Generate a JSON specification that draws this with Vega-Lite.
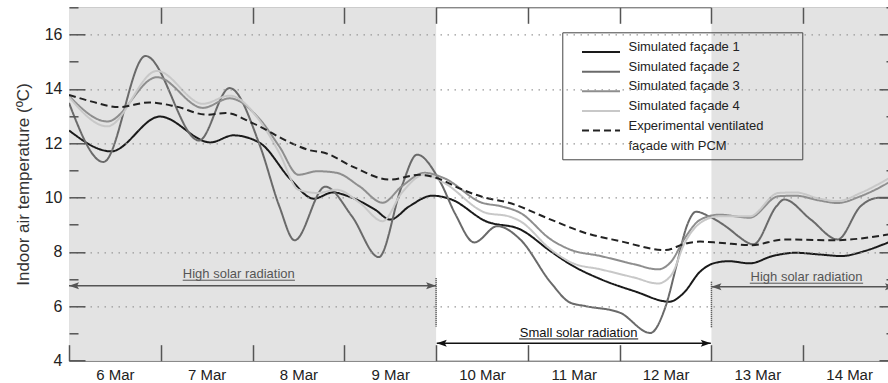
{
  "$schema": "https://vega.github.io/schema/vega-lite/v6.json",
  "width": 826,
  "height": 353.4,
  "autosize": {"type": "none"},
  "padding": {"left": 69, "top": 7.3, "right": 0, "bottom": 22},
  "background": "white",
  "config": {
    "font": "Liberation Sans",
    "view": {"stroke": "#555", "strokeWidth": 1}
  },
  "datasets": {
    "bands": [
      {"start": "2016-03-06T00:00", "end": "2016-03-10T00:00"},
      {"start": "2016-03-13T00:00", "end": "2016-03-15T00:00"}
    ],
    "dividers": [
      {"time": "2016-03-10T00:00", "top": 7.03, "bottom": 5.25},
      {"time": "2016-03-13T00:00", "top": 6.9, "bottom": 5.2}
    ],
    "arrows": [
      {"kind": "high", "start": "2016-03-06T00:00", "end": "2016-03-10T00:00", "level": 6.76},
      {"kind": "small", "start": "2016-03-10T00:10", "end": "2016-03-12T23:50", "level": 4.64},
      {"kind": "high", "start": "2016-03-13T00:00", "end": "2016-03-15T00:00", "level": 6.72}
    ],
    "notes": [
      {"kind": "high", "label": "High solar radiation", "time": "2016-03-07T20:24", "temp": 7.05, "u0": "2016-03-07T05:44", "u1": "2016-03-08T11:05", "uy": 6.96},
      {"kind": "small", "label": "Small solar radiation", "time": "2016-03-11T13:16", "temp": 4.88, "u0": "2016-03-10T21:43", "u1": "2016-03-12T04:51", "uy": 4.8},
      {"kind": "high", "label": "High solar radiation", "time": "2016-03-14T00:52", "temp": 6.92, "u0": "2016-03-13T10:02", "u1": "2016-03-14T15:40", "uy": 6.85}
    ],
    "series": [
      {"series": "Simulated façade 1", "time": "2016-03-06T00:00", "temp": 12.47},
      {"series": "Simulated façade 1", "time": "2016-03-06T11:00", "temp": 11.70},
      {"series": "Simulated façade 1", "time": "2016-03-06T23:45", "temp": 12.98},
      {"series": "Simulated façade 1", "time": "2016-03-07T13:00", "temp": 12.03},
      {"series": "Simulated façade 1", "time": "2016-03-07T19:00", "temp": 12.29},
      {"series": "Simulated façade 1", "time": "2016-03-08T02:00", "temp": 12.00},
      {"series": "Simulated façade 1", "time": "2016-03-08T10:00", "temp": 10.66},
      {"series": "Simulated façade 1", "time": "2016-03-08T16:00", "temp": 9.96},
      {"series": "Simulated façade 1", "time": "2016-03-08T21:00", "temp": 10.19},
      {"series": "Simulated façade 1", "time": "2016-03-09T01:00", "temp": 10.05},
      {"series": "Simulated façade 1", "time": "2016-03-09T08:00", "temp": 9.56},
      {"series": "Simulated façade 1", "time": "2016-03-09T12:00", "temp": 9.19},
      {"series": "Simulated façade 1", "time": "2016-03-09T17:00", "temp": 9.68},
      {"series": "Simulated façade 1", "time": "2016-03-09T23:00", "temp": 10.07},
      {"series": "Simulated façade 1", "time": "2016-03-10T04:00", "temp": 9.93},
      {"series": "Simulated façade 1", "time": "2016-03-10T13:00", "temp": 9.13},
      {"series": "Simulated façade 1", "time": "2016-03-10T22:00", "temp": 8.83},
      {"series": "Simulated façade 1", "time": "2016-03-11T06:00", "temp": 8.02},
      {"series": "Simulated façade 1", "time": "2016-03-11T11:00", "temp": 7.55},
      {"series": "Simulated façade 1", "time": "2016-03-11T19:00", "temp": 7.00},
      {"series": "Simulated façade 1", "time": "2016-03-12T04:00", "temp": 6.55},
      {"series": "Simulated façade 1", "time": "2016-03-12T13:00", "temp": 6.17},
      {"series": "Simulated façade 1", "time": "2016-03-12T16:40", "temp": 6.48},
      {"series": "Simulated façade 1", "time": "2016-03-12T21:00", "temp": 7.27},
      {"series": "Simulated façade 1", "time": "2016-03-13T00:30", "temp": 7.58},
      {"series": "Simulated façade 1", "time": "2016-03-13T04:30", "temp": 7.66},
      {"series": "Simulated façade 1", "time": "2016-03-13T10:00", "temp": 7.58},
      {"series": "Simulated façade 1", "time": "2016-03-13T16:00", "temp": 7.85},
      {"series": "Simulated façade 1", "time": "2016-03-13T22:00", "temp": 7.97},
      {"series": "Simulated façade 1", "time": "2016-03-14T04:00", "temp": 7.91},
      {"series": "Simulated façade 1", "time": "2016-03-14T10:00", "temp": 7.85},
      {"series": "Simulated façade 1", "time": "2016-03-14T16:00", "temp": 8.03},
      {"series": "Simulated façade 1", "time": "2016-03-14T21:00", "temp": 8.28},
      {"series": "Simulated façade 1", "time": "2016-03-15T00:00", "temp": 8.45},

      {"series": "Simulated façade 2", "time": "2016-03-06T00:00", "temp": 13.48},
      {"series": "Simulated façade 2", "time": "2016-03-06T09:00", "temp": 11.31},
      {"series": "Simulated façade 2", "time": "2016-03-06T20:00", "temp": 15.21},
      {"series": "Simulated façade 2", "time": "2016-03-07T10:00", "temp": 12.10},
      {"series": "Simulated façade 2", "time": "2016-03-07T18:00", "temp": 14.03},
      {"series": "Simulated façade 2", "time": "2016-03-08T02:00", "temp": 11.88},
      {"series": "Simulated façade 2", "time": "2016-03-08T07:00", "temp": 9.68},
      {"series": "Simulated façade 2", "time": "2016-03-08T11:00", "temp": 8.43},
      {"series": "Simulated façade 2", "time": "2016-03-08T19:00", "temp": 10.40},
      {"series": "Simulated façade 2", "time": "2016-03-09T02:00", "temp": 9.31},
      {"series": "Simulated façade 2", "time": "2016-03-09T09:00", "temp": 7.81},
      {"series": "Simulated façade 2", "time": "2016-03-09T15:00", "temp": 10.41},
      {"series": "Simulated façade 2", "time": "2016-03-09T19:00", "temp": 11.58},
      {"series": "Simulated façade 2", "time": "2016-03-10T01:00", "temp": 10.60},
      {"series": "Simulated façade 2", "time": "2016-03-10T05:00", "temp": 9.40},
      {"series": "Simulated façade 2", "time": "2016-03-10T10:00", "temp": 8.35},
      {"series": "Simulated façade 2", "time": "2016-03-10T16:00", "temp": 8.95},
      {"series": "Simulated façade 2", "time": "2016-03-10T22:00", "temp": 8.46},
      {"series": "Simulated façade 2", "time": "2016-03-11T06:00", "temp": 6.87},
      {"series": "Simulated façade 2", "time": "2016-03-11T11:00", "temp": 6.14},
      {"series": "Simulated façade 2", "time": "2016-03-11T15:00", "temp": 6.01},
      {"series": "Simulated façade 2", "time": "2016-03-12T00:00", "temp": 5.77},
      {"series": "Simulated façade 2", "time": "2016-03-12T08:00", "temp": 5.02},
      {"series": "Simulated façade 2", "time": "2016-03-12T12:00", "temp": 5.99},
      {"series": "Simulated façade 2", "time": "2016-03-12T15:00", "temp": 7.58},
      {"series": "Simulated façade 2", "time": "2016-03-12T17:30", "temp": 8.93},
      {"series": "Simulated façade 2", "time": "2016-03-12T20:00", "temp": 9.48},
      {"series": "Simulated façade 2", "time": "2016-03-12T23:30", "temp": 9.30},
      {"series": "Simulated façade 2", "time": "2016-03-13T05:00", "temp": 8.81},
      {"series": "Simulated façade 2", "time": "2016-03-13T07:00", "temp": 8.58},
      {"series": "Simulated façade 2", "time": "2016-03-13T11:00", "temp": 8.28},
      {"series": "Simulated façade 2", "time": "2016-03-13T17:00", "temp": 9.68},
      {"series": "Simulated façade 2", "time": "2016-03-13T19:00", "temp": 9.93},
      {"series": "Simulated façade 2", "time": "2016-03-14T02:00", "temp": 9.19},
      {"series": "Simulated façade 2", "time": "2016-03-14T09:00", "temp": 8.46},
      {"series": "Simulated façade 2", "time": "2016-03-14T15:00", "temp": 9.68},
      {"series": "Simulated façade 2", "time": "2016-03-14T19:30", "temp": 9.99},
      {"series": "Simulated façade 2", "time": "2016-03-15T00:00", "temp": 10.00},

      {"series": "Simulated façade 3", "time": "2016-03-06T00:00", "temp": 13.74},
      {"series": "Simulated façade 3", "time": "2016-03-06T10:00", "temp": 12.80},
      {"series": "Simulated façade 3", "time": "2016-03-06T23:00", "temp": 14.43},
      {"series": "Simulated façade 3", "time": "2016-03-07T11:00", "temp": 13.30},
      {"series": "Simulated façade 3", "time": "2016-03-07T18:00", "temp": 13.65},
      {"series": "Simulated façade 3", "time": "2016-03-08T02:00", "temp": 12.86},
      {"series": "Simulated façade 3", "time": "2016-03-08T07:00", "temp": 11.88},
      {"series": "Simulated façade 3", "time": "2016-03-08T12:00", "temp": 10.84},
      {"series": "Simulated façade 3", "time": "2016-03-08T17:00", "temp": 10.97},
      {"series": "Simulated façade 3", "time": "2016-03-08T22:00", "temp": 10.91},
      {"series": "Simulated façade 3", "time": "2016-03-09T04:00", "temp": 10.41},
      {"series": "Simulated façade 3", "time": "2016-03-09T10:00", "temp": 9.81},
      {"series": "Simulated façade 3", "time": "2016-03-09T15:00", "temp": 10.41},
      {"series": "Simulated façade 3", "time": "2016-03-09T21:00", "temp": 10.91},
      {"series": "Simulated façade 3", "time": "2016-03-10T02:00", "temp": 10.72},
      {"series": "Simulated façade 3", "time": "2016-03-10T12:00", "temp": 9.81},
      {"series": "Simulated façade 3", "time": "2016-03-10T17:00", "temp": 9.68},
      {"series": "Simulated façade 3", "time": "2016-03-10T22:00", "temp": 9.44},
      {"series": "Simulated façade 3", "time": "2016-03-11T06:00", "temp": 8.46},
      {"series": "Simulated façade 3", "time": "2016-03-11T11:00", "temp": 8.09},
      {"series": "Simulated façade 3", "time": "2016-03-11T19:00", "temp": 7.85},
      {"series": "Simulated façade 3", "time": "2016-03-12T04:00", "temp": 7.54},
      {"series": "Simulated façade 3", "time": "2016-03-12T10:00", "temp": 7.36},
      {"series": "Simulated façade 3", "time": "2016-03-12T13:30", "temp": 7.65},
      {"series": "Simulated façade 3", "time": "2016-03-12T17:00", "temp": 8.50},
      {"series": "Simulated façade 3", "time": "2016-03-12T21:00", "temp": 9.18},
      {"series": "Simulated façade 3", "time": "2016-03-13T02:00", "temp": 9.37},
      {"series": "Simulated façade 3", "time": "2016-03-13T10:00", "temp": 9.26},
      {"series": "Simulated façade 3", "time": "2016-03-13T17:30", "temp": 10.05},
      {"series": "Simulated façade 3", "time": "2016-03-13T22:00", "temp": 10.07},
      {"series": "Simulated façade 3", "time": "2016-03-14T04:00", "temp": 9.90},
      {"series": "Simulated façade 3", "time": "2016-03-14T09:00", "temp": 9.80},
      {"series": "Simulated façade 3", "time": "2016-03-14T15:00", "temp": 10.05},
      {"series": "Simulated façade 3", "time": "2016-03-14T20:30", "temp": 10.41},
      {"series": "Simulated façade 3", "time": "2016-03-15T00:00", "temp": 10.70},

      {"series": "Simulated façade 4", "time": "2016-03-06T00:00", "temp": 13.70},
      {"series": "Simulated façade 4", "time": "2016-03-06T10:00", "temp": 12.62},
      {"series": "Simulated façade 4", "time": "2016-03-06T23:00", "temp": 14.66},
      {"series": "Simulated façade 4", "time": "2016-03-07T11:00", "temp": 13.45},
      {"series": "Simulated façade 4", "time": "2016-03-07T18:00", "temp": 13.75},
      {"series": "Simulated façade 4", "time": "2016-03-08T02:00", "temp": 12.80},
      {"series": "Simulated façade 4", "time": "2016-03-08T07:00", "temp": 11.64},
      {"series": "Simulated façade 4", "time": "2016-03-08T12:00", "temp": 10.29},
      {"series": "Simulated façade 4", "time": "2016-03-08T17:00", "temp": 10.17},
      {"series": "Simulated façade 4", "time": "2016-03-08T22:00", "temp": 10.29},
      {"series": "Simulated façade 4", "time": "2016-03-09T04:00", "temp": 9.81},
      {"series": "Simulated façade 4", "time": "2016-03-09T10:00", "temp": 9.13},
      {"series": "Simulated façade 4", "time": "2016-03-09T15:00", "temp": 10.17},
      {"series": "Simulated façade 4", "time": "2016-03-09T21:00", "temp": 10.85},
      {"series": "Simulated façade 4", "time": "2016-03-10T02:00", "temp": 10.55},
      {"series": "Simulated façade 4", "time": "2016-03-10T13:00", "temp": 9.44},
      {"series": "Simulated façade 4", "time": "2016-03-10T19:00", "temp": 9.31},
      {"series": "Simulated façade 4", "time": "2016-03-10T22:00", "temp": 9.13},
      {"series": "Simulated façade 4", "time": "2016-03-11T06:00", "temp": 8.09},
      {"series": "Simulated façade 4", "time": "2016-03-11T11:30", "temp": 7.60},
      {"series": "Simulated façade 4", "time": "2016-03-11T19:00", "temp": 7.36},
      {"series": "Simulated façade 4", "time": "2016-03-12T04:00", "temp": 7.05},
      {"series": "Simulated façade 4", "time": "2016-03-12T10:00", "temp": 6.84},
      {"series": "Simulated façade 4", "time": "2016-03-12T13:30", "temp": 7.15},
      {"series": "Simulated façade 4", "time": "2016-03-12T17:00", "temp": 8.33},
      {"series": "Simulated façade 4", "time": "2016-03-12T21:00", "temp": 9.06},
      {"series": "Simulated façade 4", "time": "2016-03-13T02:00", "temp": 9.31},
      {"series": "Simulated façade 4", "time": "2016-03-13T10:00", "temp": 9.31},
      {"series": "Simulated façade 4", "time": "2016-03-13T17:30", "temp": 10.17},
      {"series": "Simulated façade 4", "time": "2016-03-13T22:00", "temp": 10.19},
      {"series": "Simulated façade 4", "time": "2016-03-14T04:00", "temp": 9.97},
      {"series": "Simulated façade 4", "time": "2016-03-14T09:00", "temp": 9.87},
      {"series": "Simulated façade 4", "time": "2016-03-14T15:00", "temp": 10.17},
      {"series": "Simulated façade 4", "time": "2016-03-14T20:30", "temp": 10.56},
      {"series": "Simulated façade 4", "time": "2016-03-15T00:00", "temp": 10.85},

      {"series": "Experimental ventilated façade with PCM", "time": "2016-03-06T00:00", "temp": 13.78},
      {"series": "Experimental ventilated façade with PCM", "time": "2016-03-06T06:00", "temp": 13.53},
      {"series": "Experimental ventilated façade with PCM", "time": "2016-03-06T13:00", "temp": 13.33},
      {"series": "Experimental ventilated façade with PCM", "time": "2016-03-06T21:00", "temp": 13.50},
      {"series": "Experimental ventilated façade with PCM", "time": "2016-03-07T04:00", "temp": 13.35},
      {"series": "Experimental ventilated façade with PCM", "time": "2016-03-07T12:00", "temp": 13.05},
      {"series": "Experimental ventilated façade with PCM", "time": "2016-03-07T17:00", "temp": 13.11},
      {"series": "Experimental ventilated façade with PCM", "time": "2016-03-08T00:00", "temp": 12.74},
      {"series": "Experimental ventilated façade with PCM", "time": "2016-03-08T10:30", "temp": 11.98},
      {"series": "Experimental ventilated façade with PCM", "time": "2016-03-08T15:00", "temp": 11.74},
      {"series": "Experimental ventilated façade with PCM", "time": "2016-03-08T19:00", "temp": 11.64},
      {"series": "Experimental ventilated façade with PCM", "time": "2016-03-09T02:00", "temp": 11.15},
      {"series": "Experimental ventilated façade with PCM", "time": "2016-03-09T12:00", "temp": 10.66},
      {"series": "Experimental ventilated façade with PCM", "time": "2016-03-09T19:30", "temp": 10.84},
      {"series": "Experimental ventilated façade with PCM", "time": "2016-03-10T02:00", "temp": 10.62},
      {"series": "Experimental ventilated façade with PCM", "time": "2016-03-10T05:00", "temp": 10.41},
      {"series": "Experimental ventilated façade with PCM", "time": "2016-03-10T13:00", "temp": 9.99},
      {"series": "Experimental ventilated façade with PCM", "time": "2016-03-10T19:00", "temp": 9.81},
      {"series": "Experimental ventilated façade with PCM", "time": "2016-03-11T06:00", "temp": 9.19},
      {"series": "Experimental ventilated façade with PCM", "time": "2016-03-11T15:00", "temp": 8.70},
      {"series": "Experimental ventilated façade with PCM", "time": "2016-03-12T00:00", "temp": 8.40},
      {"series": "Experimental ventilated façade with PCM", "time": "2016-03-12T12:00", "temp": 8.07},
      {"series": "Experimental ventilated façade with PCM", "time": "2016-03-12T17:00", "temp": 8.30},
      {"series": "Experimental ventilated façade with PCM", "time": "2016-03-12T21:00", "temp": 8.38},
      {"series": "Experimental ventilated façade with PCM", "time": "2016-03-13T02:00", "temp": 8.34},
      {"series": "Experimental ventilated façade with PCM", "time": "2016-03-13T10:30", "temp": 8.25},
      {"series": "Experimental ventilated façade with PCM", "time": "2016-03-13T19:00", "temp": 8.46},
      {"series": "Experimental ventilated façade with PCM", "time": "2016-03-14T08:00", "temp": 8.43},
      {"series": "Experimental ventilated façade with PCM", "time": "2016-03-14T21:20", "temp": 8.62},
      {"series": "Experimental ventilated façade with PCM", "time": "2016-03-15T00:00", "temp": 8.68}
    ]
  },
  "resolve": {"axis": {"x": "independent", "y": "independent"}},
  "layer": [
    {
      "data": {"name": "bands"},
      "mark": {"type": "rect", "color": "#e3e3e3"},
      "encoding": {
        "x": {
          "field": "start", "type": "temporal",
          "scale": {"domain": [{"year": 2016, "month": 3, "date": 6}, {"year": 2016, "month": 3, "date": 15}], "nice": false},
          "axis": {
            "orient": "top", "labels": false, "title": null, "domain": false, "grid": false,
            "values": [{"year": 2016, "month": 3, "date": 7}, {"year": 2016, "month": 3, "date": 8}, {"year": 2016, "month": 3, "date": 9}, {"year": 2016, "month": 3, "date": 10}, {"year": 2016, "month": 3, "date": 11}, {"year": 2016, "month": 3, "date": 12}, {"year": 2016, "month": 3, "date": 13}, {"year": 2016, "month": 3, "date": 14}],
            "tickSize": -16, "tickColor": "#555", "tickWidth": 1.5, "zindex": 1
          }
        },
        "x2": {"field": "end"}
      }
    },
    {
      "data": {"name": "dividers"},
      "mark": {"type": "rule", "color": "#333", "strokeDash": [1, 1], "strokeWidth": 1.5},
      "encoding": {
        "x": {
          "field": "time", "type": "temporal",
          "scale": {"domain": [{"year": 2016, "month": 3, "date": 6}, {"year": 2016, "month": 3, "date": 15}], "nice": false},
          "axis": null
        },
        "y": {
          "field": "top", "type": "quantitative",
          "scale": {"domain": [4, 17], "nice": false, "zero": false},
          "axis": {
            "orient": "right", "labels": false, "title": null, "domain": false, "grid": false,
            "values": [4, 5, 6, 7, 8, 9, 10, 11, 12, 13, 14, 15, 16, 17],
            "tickSize": {"condition": {"test": "datum.value % 2 == 0", "value": -16}, "value": -9},
            "tickColor": "#555", "tickWidth": 1.5, "zindex": 1
          }
        },
        "y2": {"field": "bottom"}
      }
    },
    {
      "data": {"name": "series"},
      "mark": {"type": "line", "interpolate": "monotone", "strokeWidth": 2, "clip": true},
      "encoding": {
        "x": {
          "field": "time", "type": "temporal",
          "scale": {"domain": [{"year": 2016, "month": 3, "date": 6}, {"year": 2016, "month": 3, "date": 15}], "nice": false},
          "axis": {
            "orient": "bottom", "title": null, "domain": false, "grid": false,
            "values": [{"year": 2016, "month": 3, "date": 6}, {"year": 2016, "month": 3, "date": 7}, {"year": 2016, "month": 3, "date": 8}, {"year": 2016, "month": 3, "date": 9}, {"year": 2016, "month": 3, "date": 10}, {"year": 2016, "month": 3, "date": 11}, {"year": 2016, "month": 3, "date": 12}, {"year": 2016, "month": 3, "date": 13}, {"year": 2016, "month": 3, "date": 14}],
            "format": "%-d %b",
            "labelOffset": 45.9, "labelFlush": false, "labelOverlap": false,
            "tickSize": -16, "tickColor": "#555", "tickWidth": 1.5,
            "labelPadding": 23.3, "labelFontSize": 15, "labelColor": "#222", "zindex": 1
          }
        },
        "y": {
          "field": "temp", "type": "quantitative",
          "scale": {"domain": [4, 17], "nice": false, "zero": false},
          "axis": {
            "orient": "left", "domain": false,
            "values": [4, 5, 6, 7, 8, 9, 10, 11, 12, 13, 14, 15, 16, 17],
            "labelExpr": "datum.value % 2 == 0 ? datum.label : ''",
            "tickSize": {"condition": {"test": "datum.value % 2 == 0", "value": -16}, "value": -9},
            "tickColor": "#555", "tickWidth": 1.5,
            "labelPadding": 23, "labelFontSize": 16, "labelColor": "#222",
            "grid": true, "gridColor": "#999", "gridDash": [1.5, 5.5], "gridWidth": 1.2,
            "gridOpacity": {"condition": {"test": "datum.value % 2 == 0 && datum.value > 4", "value": 1}, "value": 0},
            "title": "Indoor air temperature (ºC)", "titleFontSize": 17, "titleFontWeight": "normal", "titleColor": "#333", "titlePadding": 12,
            "zindex": 1
          }
        },
        "color": {
          "field": "series", "type": "nominal",
          "scale": {
            "domain": ["Simulated façade 1", "Simulated façade 2", "Simulated façade 3", "Simulated façade 4", "Experimental ventilated façade with PCM"],
            "range": ["#1a1a1a", "#6a6a6a", "#8e8e8e", "#c8c8c8", "#222222"]
          },
          "legend": {
            "orient": "none", "legendX": 493.3, "legendY": 25, "title": null,
            "padding": 6, "strokeColor": "#444",
            "symbolType": "M0.59,0.6H5.34M26.8,0.6", "symbolSize": 256, "symbolStrokeWidth": 2,
            "labelFontSize": 13, "labelColor": "#222", "labelOffset": 42.2, "labelLimit": 400,
            "rowPadding": 1.6, "gridAlign": "each",
            "labelExpr": "datum.label == 'Experimental ventilated façade with PCM' ? ['Experimental ventilated', 'façade with PCM'] : datum.label",
            "encode": {"labels": {"update": {"lineHeight": {"value": 20}}}}
          }
        },
        "strokeDash": {
          "field": "series", "type": "nominal",
          "scale": {
            "domain": ["Simulated façade 1", "Simulated façade 2", "Simulated façade 3", "Simulated façade 4", "Experimental ventilated façade with PCM"],
            "range": [[1, 0], [1, 0], [1, 0], [1, 0], [7, 4]]
          },
          "legend": {
            "orient": "none", "legendX": 493.3, "legendY": 25, "title": null,
            "padding": 6, "strokeColor": "#444",
            "symbolType": "M0.59,0.6H5.34M26.8,0.6", "symbolSize": 256, "symbolStrokeWidth": 2,
            "labelFontSize": 13, "labelColor": "#222", "labelOffset": 42.2, "labelLimit": 400,
            "rowPadding": 1.6, "gridAlign": "each",
            "labelExpr": "datum.label == 'Experimental ventilated façade with PCM' ? ['Experimental ventilated', 'façade with PCM'] : datum.label",
            "encode": {"labels": {"update": {"lineHeight": {"value": 20}}}}
          }
        }
      }
    },
    {
      "data": {"name": "arrows"},
      "mark": {"type": "rule", "strokeWidth": 1.5},
      "encoding": {
        "x": {"field": "start", "type": "temporal", "scale": {"domain": [{"year": 2016, "month": 3, "date": 6}, {"year": 2016, "month": 3, "date": 15}], "nice": false}, "axis": null},
        "x2": {"field": "end"},
        "y": {"field": "level", "type": "quantitative", "scale": {"domain": [4, 17], "nice": false, "zero": false}, "axis": null},
        "color": {"condition": {"test": "datum.kind == 'small'", "value": "#111"}, "value": "#555"}
      }
    },
    {
      "data": {"name": "arrows"},
      "mark": {"type": "point", "shape": "M0,0L1,-0.35L0.8,0L1,0.35Z", "filled": true, "size": 400, "opacity": 1, "strokeWidth": 0},
      "encoding": {
        "x": {"field": "start", "type": "temporal", "scale": {"domain": [{"year": 2016, "month": 3, "date": 6}, {"year": 2016, "month": 3, "date": 15}], "nice": false}, "axis": null},
        "y": {"field": "level", "type": "quantitative", "scale": {"domain": [4, 17], "nice": false, "zero": false}, "axis": null},
        "color": {"condition": {"test": "datum.kind == 'small'", "value": "#111"}, "value": "#555"}
      }
    },
    {
      "data": {"name": "arrows"},
      "mark": {"type": "point", "shape": "M0,0L-1,-0.35L-0.8,0L-1,0.35Z", "filled": true, "size": 400, "opacity": 1, "strokeWidth": 0},
      "encoding": {
        "x": {"field": "end", "type": "temporal", "scale": {"domain": [{"year": 2016, "month": 3, "date": 6}, {"year": 2016, "month": 3, "date": 15}], "nice": false}, "axis": null},
        "y": {"field": "level", "type": "quantitative", "scale": {"domain": [4, 17], "nice": false, "zero": false}, "axis": null},
        "color": {"condition": {"test": "datum.kind == 'small'", "value": "#111"}, "value": "#555"}
      }
    },
    {
      "data": {"name": "notes"},
      "mark": {"type": "text", "fontSize": 13, "align": "center", "baseline": "alphabetic"},
      "encoding": {
        "x": {"field": "time", "type": "temporal", "scale": {"domain": [{"year": 2016, "month": 3, "date": 6}, {"year": 2016, "month": 3, "date": 15}], "nice": false}, "axis": null},
        "y": {"field": "temp", "type": "quantitative", "scale": {"domain": [4, 17], "nice": false, "zero": false}, "axis": null},
        "text": {"field": "label"},
        "color": {"condition": {"test": "datum.kind == 'small'", "value": "#111"}, "value": "#555"}
      }
    },
    {
      "data": {"name": "notes"},
      "mark": {"type": "rule", "strokeWidth": 1},
      "encoding": {
        "x": {"field": "u0", "type": "temporal", "scale": {"domain": [{"year": 2016, "month": 3, "date": 6}, {"year": 2016, "month": 3, "date": 15}], "nice": false}, "axis": null},
        "x2": {"field": "u1"},
        "y": {"field": "uy", "type": "quantitative", "scale": {"domain": [4, 17], "nice": false, "zero": false}, "axis": null},
        "color": {"condition": {"test": "datum.kind == 'small'", "value": "#111"}, "value": "#555"}
      }
    }
  ]
}
